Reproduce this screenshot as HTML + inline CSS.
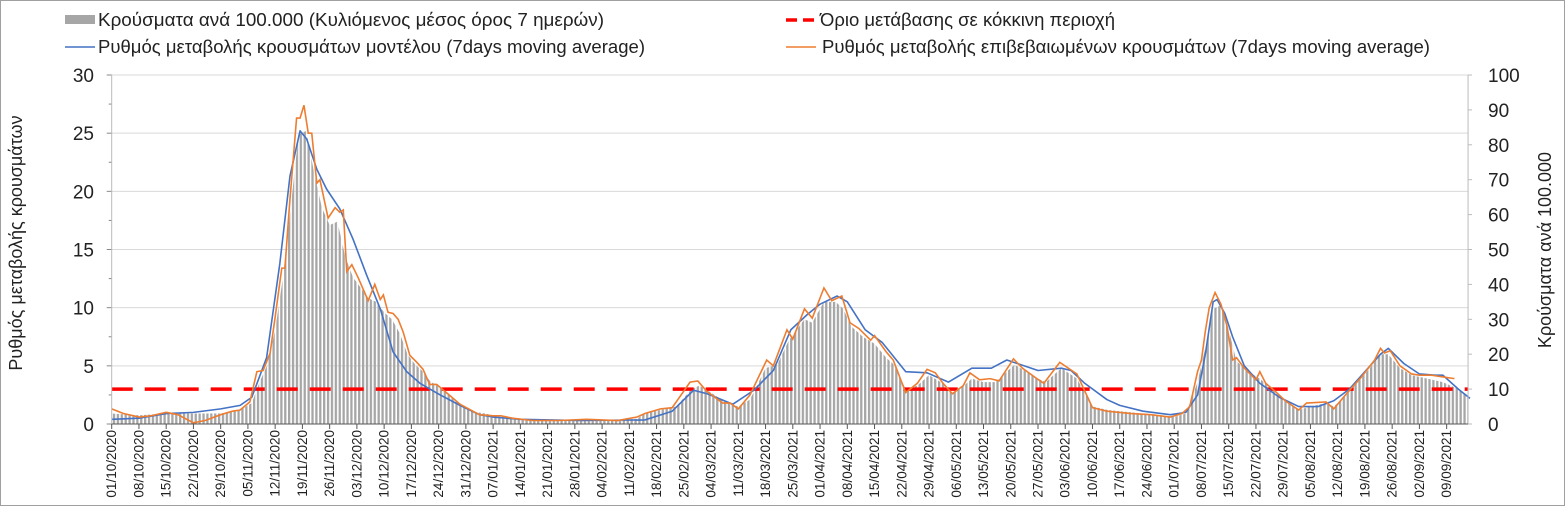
<!DOCTYPE html>
<html><head><meta charset="utf-8"><style>
body{margin:0;background:#fff}
svg{display:block;font-family:"Liberation Sans",Arial,sans-serif}
</style></head><body>
<svg id="chart" width="1565" height="506" viewBox="0 0 1565 506" xmlns="http://www.w3.org/2000/svg">
<defs>
<pattern id="stripes" patternUnits="userSpaceOnUse" width="3.892" height="10">
<rect x="0" y="0" width="2.3" height="10" fill="#a6a6a6"/>
</pattern>
</defs>
<rect x="0.5" y="0.5" width="1564" height="505" fill="#fff" stroke="#a0a0a0"/>
<g id="grid"></g>
<g id="bars"></g>
<g id="lines"></g>
<g id="axes"></g>
<g>
<g>
<rect x="65" y="15" width="30" height="9" fill="#a6a6a6"/>
<text x="98" y="26" font-size="18.5" fill="#222" textLength="506" lengthAdjust="spacingAndGlyphs">Κρούσματα ανά 100.000 (Κυλιόμενος μέσος όρος 7 ημερών)</text></g>
<g>
<line x1="786" y1="20" x2="816" y2="20" stroke="#ff0000" stroke-width="3.5" stroke-dasharray="11,6"/>
<text x="820" y="26" font-size="18.5" fill="#222">Όριο μετάβασης σε κόκκινη περιοχή</text></g>
<g>
<line x1="65" y1="47" x2="95" y2="47" stroke="#4472c4" stroke-width="1.5"/>
<text x="98" y="53" font-size="18.5" fill="#222" textLength="547" lengthAdjust="spacingAndGlyphs">Ρυθμός μεταβολής κρουσμάτων μοντέλου (7days moving average)</text></g>
<g>
<line x1="786" y1="47" x2="816" y2="47" stroke="#ed7d31" stroke-width="1.5"/>
<text x="822" y="53" font-size="18.5" fill="#222" textLength="608" lengthAdjust="spacingAndGlyphs">Ρυθμός μεταβολής επιβεβαιωμένων κρουσμάτων (7days moving average)</text></g>
</g>
<text transform="translate(22,243) rotate(-90)" text-anchor="middle" font-size="18" fill="#222">Ρυθμός μεταβολής κρουσμάτων</text>
<text transform="translate(1551,250) rotate(-90)" text-anchor="middle" font-size="18" fill="#222">Κρούσματα ανά 100.000</text>
<script>
const leftTicks=[0,5,10,15,20,25,30];
const rightTicks=[0,10,20,30,40,50,60,70,80,90,100];
const threshold=3;
const startDate=[2020,9,1];
const totalDays=348.5;
const orangeDays=[0,3,7,10,14,17,21,24,28,31,33,35.5,37.3,38.9,40.7,42,43.7,44.5,45.8,47.5,48.4,49.4,50.5,51.4,52.7,53.5,55.6,57.4,58.6,59.5,60.4,61.7,63.3,65.9,67.6,69,69.8,71,72.3,73.6,74.9,76.6,78.4,80,81.7,83.5,86,89.5,92.8,94.5,98,100,103,108,115,122,130,135,137,141,144,148.6,150.6,152.9,157,158.9,161,164,168.3,170,173.5,175,178,180,183,185,187.6,189.7,192,195,196,199,200.8,204,207,209.5,211.6,213.6,216,218.8,220.5,223,225.7,228,231.7,234,237.7,239.5,243.6,248,252,255.7,262,267,272,275,276,277,279,280,281,282,283.5,285,286.5,288,289,291,294,295,296.5,299,301.5,305,307,312,314,317,321,324.5,326,327,328.5,331,334,336,339,341,345];
const orangeVals=[1.3,0.9,0.6,0.7,1.0,0.8,0.1,0.3,0.8,1.1,1.2,1.9,4.5,4.6,6.1,9.2,13.4,13.4,19.3,26.3,26.3,27.4,25,25,20.7,21,17.7,18.6,18.2,18.4,13.1,13.7,12.6,10.6,12,10.7,11.1,9.6,9.5,9.0,7.9,5.9,5.3,4.7,3.4,3.4,2.7,1.7,1.1,0.8,0.7,0.7,0.5,0.3,0.3,0.4,0.3,0.6,0.9,1.3,1.4,3.6,3.7,2.8,1.8,1.8,1.3,2.5,5.5,5,8.1,7.3,9.9,9.1,11.7,10.6,11.0,8.7,8.2,7.2,7.6,6.2,5.5,2.7,3.5,4.7,4.4,3.5,2.6,3.3,4.4,3.8,3.9,3.7,5.6,4.8,3.9,3.5,5.3,4.3,1.4,1.1,0.9,0.8,0.6,0.9,1.2,1.5,4.5,5.5,8,10,11.3,10.3,8.5,5.5,5.7,4.8,3.8,4.5,3.5,2.8,2,1.2,1.8,1.9,1.3,2.5,4,5.5,6.5,6.1,6.3,5,4.3,4.2,4.2,4.1,3.9];
const blueDays=[0,7,14,21,28,33,36,39.8,43.2,45.8,48.4,50.1,52.7,55.2,58.6,62,65.5,69,72.3,75.8,79.2,84.4,89.5,94.5,98,105,120,137,144,149.5,153,159.6,165,170,174.5,178.7,182,186.4,189,193.6,198,204,209.5,215,221,226,230,238,244,246.5,250,255.7,259,265,272,276,279,281,283,284,286,288,291,295,300,305,310,314,318,322,326,328,332,336,340,342,346,349];
const blueVals=[0.4,0.5,0.9,1.0,1.3,1.6,2.3,5.7,13.8,21.3,25.2,24.5,21.9,20.2,18.5,15.9,12.8,9.9,6.2,4.5,3.5,2.5,1.6,0.8,0.6,0.4,0.3,0.35,1.1,2.9,2.6,1.7,2.9,4.6,8.1,9.4,10.3,11.0,10.5,8.1,7.0,4.5,4.4,3.6,4.8,4.8,5.5,4.6,4.8,4.6,3.5,2.1,1.6,1.1,0.8,1.0,2.5,6,10.5,10.7,9.5,7.5,5,3.5,2.3,1.5,1.5,2.0,3,4.5,6,6.5,5.2,4.3,4.2,4.2,3,2.2];
const barDays=[0,7,14,21,28,33,36,38,40,42,44,46,48,50,52,54,56,58,60,62,64,66,68,70,72,74,76,78,80,82,84,87,90,93,96,100,105,115,125,135,137,141,145,149,151,154,158,161,164,168,171,174,178,180,183,186,188,190,193,196,199,201,204,207,210,213,216,219,221,224,227,230,232,235,238,240,244,248,252,256,265,273,276,279,281,283,285,287,289,292,295,298,301,305,308,312,314,317,321,324,326,328,331,334,338,342,346,348.5];
const barVals=[3,2.5,3,3,3,4,6,12,17,27,42,62,83,84,72,62,57,58,48,42,39,36,35,32,30,26,20,17,15,12,11,8,5.5,3.5,3,2,1.5,1,1,1.5,3,4,5,10,11,9,6,5,7,16,17,24,30,29,35,35,33,28,25,23,19,17,10,11,14,12,9,11,13,12,12,15,17,15,13,12,16,13,5,4,3,2,3,12,22,33,34,27,18,15,13,10,7,4,5,6,5,8,13,17,20,20,16,14,13,12,10,8];

const NS='http://www.w3.org/2000/svg';
const X0=111.7,X1=111.7+3.892*totalDays,Y0=424,Y1=75;
const xs=d=>X0+3.892*d;
const yl=v=>Y0-(v/30)*(Y0-Y1);
const yr=v=>Y0-(v/100)*(Y0-Y1);
function mk(tag,parent,attrs){const e=document.createElementNS(NS,tag);for(const k in attrs)e.setAttribute(k,attrs[k]);parent.appendChild(e);return e;}
const grid=document.getElementById('grid'),axes=document.getElementById('axes'),bars=document.getElementById('bars'),lines=document.getElementById('lines');
leftTicks.forEach(t=>{
  if(t>0){const g=mk('line',grid,{x1:X0,x2:X1,y1:yl(t),y2:yl(t),stroke:'#d9d9d9','stroke-width':1});
  
  }
  const tx=mk('text',axes,{x:94,y:yl(t)+7,'text-anchor':'end','font-size':19,fill:'#222'});
  tx.textContent=t;
  
  
  mk('line',axes,{x1:X0-5,x2:X0,y1:yl(t),y2:yl(t),stroke:'#888'});
  if(t<30)mk('line',axes,{x1:X0-3,x2:X0,y1:yl(t+2.5),y2:yl(t+2.5),stroke:'#888'});
});
rightTicks.forEach(t=>{
  const tx=mk('text',axes,{x:1488,y:yr(t)+7,'text-anchor':'start','font-size':19,fill:'#222'});
  tx.textContent=t;
  
  
  mk('line',axes,{x1:X1,x2:X1+4,y1:yr(t),y2:yr(t),stroke:'#bbb'});
});
mk('line',axes,{x1:X0,x2:X0,y1:Y1,y2:Y0,stroke:'#bbb'});
mk('line',axes,{x1:X1,x2:X1,y1:Y1,y2:Y0,stroke:'#bbb'});
mk('line',axes,{x1:X0,x2:X1,y1:Y0,y2:Y0,stroke:'#555'});
let p=`M${xs(barDays[0])},${Y0} `+barDays.map((d,i)=>`L${xs(d)},${yr(barVals[i])}`).join(' ')+` L${xs(barDays[barDays.length-1])},${Y0} Z`;
const area=mk('path',bars,{d:p,fill:'url(#stripes)'});


const th=mk('line',lines,{x1:X0,x2:X1,y1:yl(threshold),y2:yl(threshold),stroke:'#ff0000','stroke-width':3.5,'stroke-dasharray':'21,12'});


const bl=mk('polyline',lines,{points:blueDays.map((d,i)=>xs(d)+','+yl(blueVals[i])).join(' '),fill:'none',stroke:'#4472c4','stroke-width':1.6,'stroke-linejoin':'round'});


const ol=mk('polyline',lines,{points:orangeDays.map((d,i)=>xs(d)+','+yl(orangeVals[i])).join(' '),fill:'none',stroke:'#ed7d31','stroke-width':1.6});


const base=new Date(startDate[0],startDate[1],startDate[2]);
for(let d=0;d<=totalDays;d+=7){
  const dt=new Date(base.getTime()+d*86400000+3600000*3);
  const s=String(dt.getDate()).padStart(2,'0')+'/'+String(dt.getMonth()+1).padStart(2,'0')+'/'+dt.getFullYear();
  mk('line',axes,{x1:xs(d),x2:xs(d),y1:Y0,y2:Y0+5,stroke:'#555'});
  const tx=mk('text',axes,{transform:`translate(${xs(d)+4.5},${Y0+6}) rotate(-90)`,'text-anchor':'end','font-size':13.5,fill:'#222'});
  tx.textContent=s;
  
  
}
</script>
</svg>
</body></html>
